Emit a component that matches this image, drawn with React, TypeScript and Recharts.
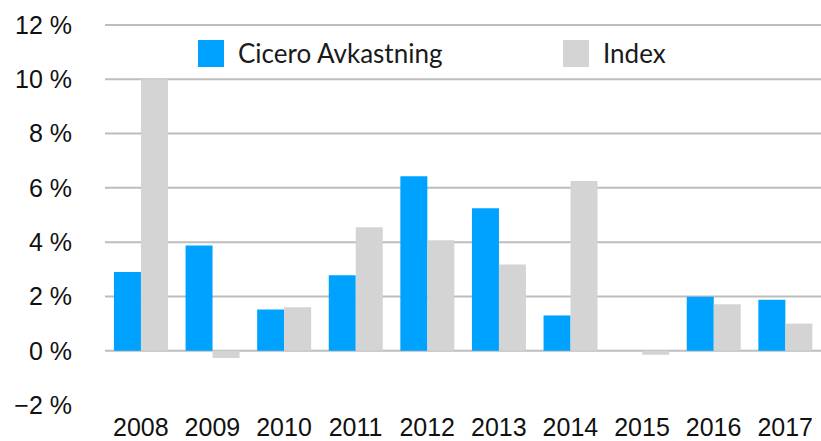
import React from 'react';
import { BarChart, Bar, XAxis, YAxis, CartesianGrid } from 'recharts';

const years = ['2008', '2009', '2010', '2011', '2012', '2013', '2014', '2015', '2016', '2017'];
const cicero = [2.9, 3.88, 1.52, 2.78, 6.43, 5.25, 1.3, 0, 1.99, 1.88];
const index = [10.0, -0.27, 1.6, 4.55, 4.07, 3.18, 6.25, -0.15, 1.71, 1.0];
const yTicks = [-2, 0, 2, 4, 6, 8, 10, 12];
const gridValues = [0, 2, 4, 6, 8, 10, 12];
const seriesNames = ['Cicero Avkastning', 'Index'];
const colors = ['#00A2FF', '#D4D4D4'];

const data = years.map((y, i) => ({ year: y, cicero: cicero[i], index: index[i] }));

const fmt = (v: number) => (v < 0 ? '\u2212' + Math.abs(v) : String(v)) + ' %';

const LegendOverlay = () => (
  <div style={{ position: 'absolute', left: 0, top: 40, width: 821, height: 27 }}>
    {seriesNames.map((n, i) => (
      <div key={n} style={{ position: 'absolute', left: i === 0 ? 198 : 563, top: 0, display: 'flex', alignItems: 'center', height: 27 }}>
        <div style={{ width: 26, height: 27, background: colors[i] }} />
        <span style={{ marginLeft: 14, fontFamily: 'Lato', fontWeight: 400, fontSize: 26, color: '#1a1a1a', lineHeight: '27px', whiteSpace: 'nowrap' }}>{n}</span>
      </div>
    ))}
  </div>
);

export default function App() {
  return (
    <div style={{ position: 'absolute', left: 0, top: 0, width: 821, height: 441, background: '#fff' }}>
      <BarChart
        width={821}
        height={441}
        data={data}
        margin={{ top: 25, right: 0, left: 0, bottom: 0 }}
        barCategoryGap="12.5%"
        barGap={0}
      >
        <CartesianGrid vertical={false} horizontalValues={gridValues} stroke="#BDBDBD" strokeWidth={2} />
        <XAxis
          dataKey="year"
          axisLine={false}
          tickLine={false}
          tickSize={0}
          tickMargin={13}
          height={36}
          interval={0}
          tick={{ fill: '#111', fontSize: 25, fontFamily: 'Liberation Sans' }}
        />
        <YAxis
          width={105}
          domain={[-2, 12]}
          ticks={yTicks}
          tickFormatter={fmt}
          axisLine={false}
          tickLine={false}
          tickSize={0}
          tickMargin={33}
          interval={0}
          tick={{ fill: '#111', fontSize: 25, fontFamily: 'Liberation Sans' }}
        />
        <Bar dataKey="cicero" name={seriesNames[0]} fill={colors[0]} isAnimationActive={false} />
        <Bar dataKey="index" name={seriesNames[1]} fill={colors[1]} isAnimationActive={false} />
      </BarChart>
      <LegendOverlay />
    </div>
  );
}
